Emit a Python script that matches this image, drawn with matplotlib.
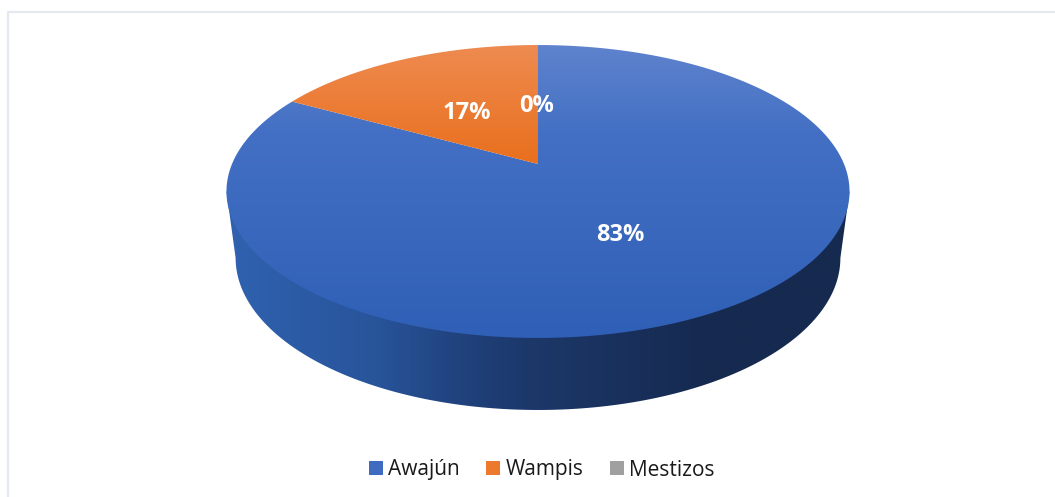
import matplotlib
matplotlib.use("Agg")
import matplotlib.pyplot as plt
import numpy as np
from matplotlib.colors import LinearSegmentedColormap
from matplotlib.lines import Line2D
from matplotlib.patches import Polygon

categories = ["Awajún", "Wampis", "Mestizos"]
shares = [83, 17, 0]
share_labels = ["83%", "17%", "0%"]
legend_colors = ["#3f6cc0", "#ed7a2c", "#a0a0a0"]

W, H = 1055, 497
CX = 538
TILT = 0.1877


def project(turn, y0, a, h):
    # turn runs clockwise from 12 o'clock, in fractions of the circle
    th = 2 * np.pi * np.asarray(turn)
    sx, sy = np.sin(th), np.cos(th)
    d = 1 + TILT * sy
    return CX + a * sx / d, y0 - h * sy / d


def top_face(turn):
    return project(turn, 164, 306, 141.3)


def base_face(turn):
    return project(turn, 229.5, 297, 146.6)


def gradient_fill(ax, verts, stops, horizontal=False):
    # paint a linear gradient and clip it to the polygon
    verts = np.asarray(verts)
    x0, y0 = verts.min(axis=0)
    x1, y1 = verts.max(axis=0)
    cmap = LinearSegmentedColormap.from_list("g", stops)
    grad = np.linspace(0, 1, 256)
    grad = grad[None, :] if horizontal else grad[:, None]
    im = ax.imshow(grad, cmap=cmap, extent=(x0, x1, y1, y0), aspect="auto", zorder=2, interpolation="bilinear")
    poly = Polygon(verts, closed=True, transform=ax.transData, fc="none", ec="none")
    ax.add_patch(poly)
    im.set_clip_path(poly)


fig = plt.figure(figsize=(W / 100, H / 100), dpi=100)
ax = fig.add_axes([0, 0, 1, 1])
ax.axis("off")

# faint frame of the source slide, only top and left show
ax.plot([8, 8, W], [H, 12, 12], color="#e4e9f0", lw=1.6, zorder=1)

# side wall: tangent from the widest top points down round the base
widest = np.arcsin(TILT) / (2 * np.pi)
arc = np.linspace(0.25 + widest, 0.75 - widest, 300)
bx, by = base_face(arc)
lx, ly = top_face(0.75 - widest)
rx, ry = top_face(0.25 + widest)
wall = np.vstack([[rx, ry], np.column_stack([bx, by]), [lx, ly]])
wall_stops = [(0, "#3062b0"), (0.24, "#28549a"), (0.4, "#1f3f78"), (0.5, "#1c3768"), (0.77, "#162a50"), (1, "#162a50")]
gradient_fill(ax, wall, wall_stops, horizontal=True)

# top face, wedges running clockwise from 12 o'clock
start = 0.0
top_stops = [
    [(0, "#5f83cd"), (0.3, "#4370c4"), (1, "#2f5fb6")],
    [(0, "#ee8b50"), (1, "#e96f1d")],
]
for share, stops in zip(shares, top_stops + [None]):
    frac = share / sum(shares)
    if frac > 0:
        turn = np.linspace(start, start + frac, 300)
        tx, ty = top_face(turn)
        gradient_fill(ax, np.vstack([[CX, 164], np.column_stack([tx, ty])]), stops)
    start += frac

# data labels
label_font = {"family": "Open Sans", "fontsize": 17, "fontweight": "bold", "color": "white", "zorder": 3}
for text, (x, y) in zip(share_labels, [(620, 235), (467, 113), (537, 106)]):
    ax.text(x, y, text, ha="center", va="center", **label_font)

handles = [Line2D([], [], ls="none", marker="s", ms=10, mfc=c, mec=c, mew=0) for c in legend_colors]
ax.legend(
    handles,
    categories,
    loc="center",
    bbox_to_anchor=(540 / W, 1 - 470 / H),
    ncol=3,
    frameon=False,
    prop={"family": "Open Sans", "size": 15},
    handletextpad=0.1,
    columnspacing=1.1,
    handlelength=1.0,
    labelcolor="#1a1a1a",
)

ax.set_xlim(0, W)
ax.set_ylim(H, 0)
fig.savefig("out.png", dpi=100)
